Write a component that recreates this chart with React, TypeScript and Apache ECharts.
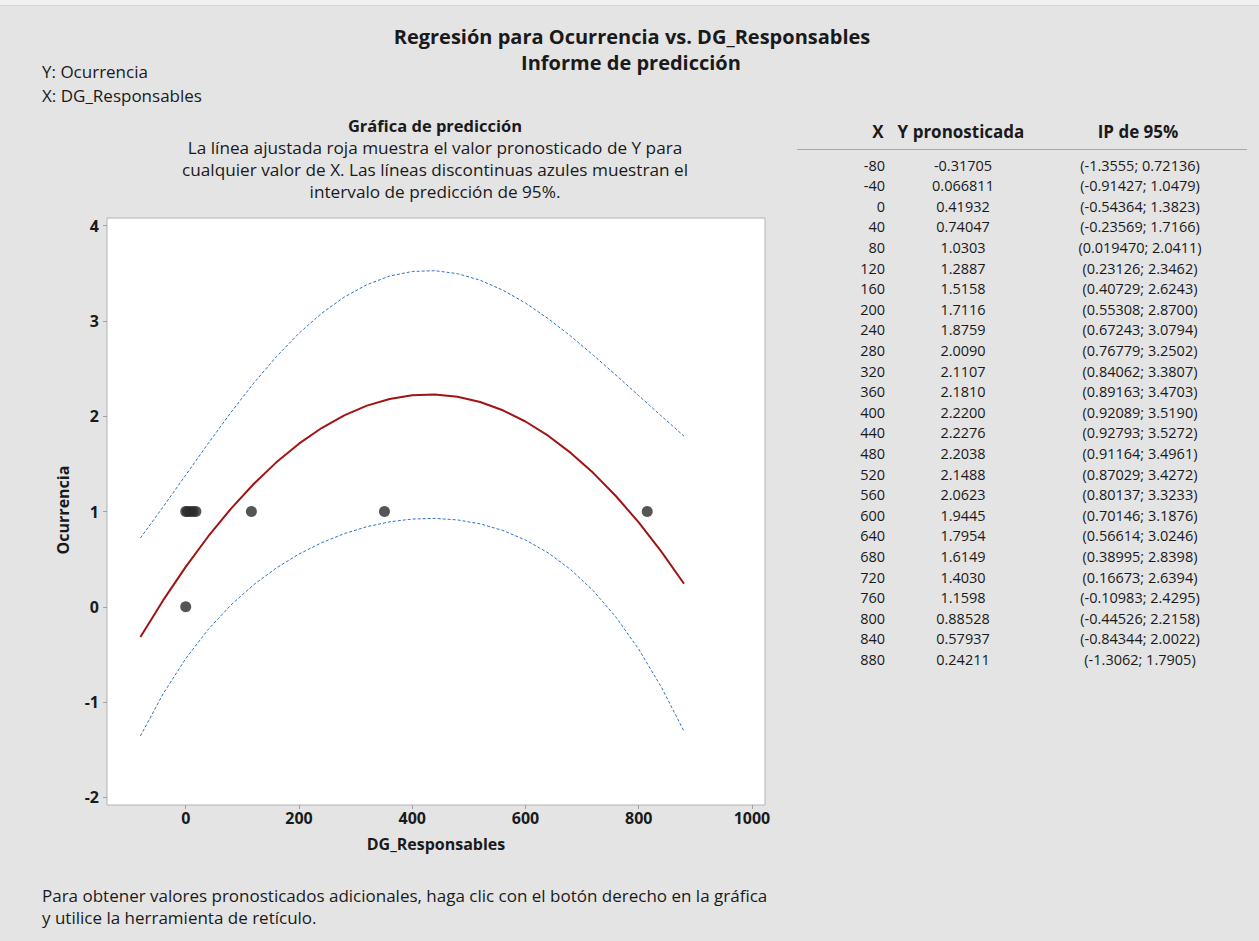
import React, { useEffect, useRef } from "react";
import * as echarts from "echarts";

// ---- Data ----
const xGrid: number[] = [-80, -40, 0, 40, 80, 120, 160, 200, 240, 280, 320, 360, 400, 440, 480, 520, 560, 600, 640, 680, 720, 760, 800, 840, 880];
const yPredText: string[] = ["-0.31705", "0.066811", "0.41932", "0.74047", "1.0303", "1.2887", "1.5158", "1.7116", "1.8759", "2.0090", "2.1107", "2.1810", "2.2200", "2.2276", "2.2038", "2.1488", "2.0623", "1.9445", "1.7954", "1.6149", "1.4030", "1.1598", "0.88528", "0.57937", "0.24211"];
const piLowText: string[] = ["-1.3555", "-0.91427", "-0.54364", "-0.23569", "0.019470", "0.23126", "0.40729", "0.55308", "0.67243", "0.76779", "0.84062", "0.89163", "0.92089", "0.92793", "0.91164", "0.87029", "0.80137", "0.70146", "0.56614", "0.38995", "0.16673", "-0.10983", "-0.44526", "-0.84344", "-1.3062"];
const piHighText: string[] = ["0.72136", "1.0479", "1.3823", "1.7166", "2.0411", "2.3462", "2.6243", "2.8700", "3.0794", "3.2502", "3.3807", "3.4703", "3.5190", "3.5272", "3.4961", "3.4272", "3.3233", "3.1876", "3.0246", "2.8398", "2.6394", "2.4295", "2.2158", "2.0022", "1.7905"];

const obsX: number[] = [0, 0, 3, 8, 13, 18, 116, 351, 815];
const obsY: number[] = [0, 1, 1, 1, 1, 1, 1, 1, 1];

const xTicks: number[] = [0, 200, 400, 600, 800, 1000];
const yTicks: number[] = [-2, -1, 0, 1, 2, 3, 4];

const FONT = "'Open Sans', 'Noto Sans', sans-serif";
const TXT = "#1a1a1a";

export default function App() {
  const ref = useRef<HTMLDivElement>(null);
  useEffect(() => {
    document.body.style.margin = "0";
    if (!ref.current) return;
    const chart = echarts.init(ref.current, null, { renderer: "svg" });

    const yPred = yPredText.map(Number);
    const piLow = piLowText.map(Number);
    const piHigh = piHighText.map(Number);

    const txt = (text: string, x: number, y: number, opts: any = {}) => ({
      type: "text",
      x,
      y,
      rotation: opts.rotation || 0,
      style: {
        text,
        fill: TXT,
        font: `${opts.bold ? "bold " : ""}${opts.size || 14}px ${FONT}`,
        align: opts.align || "left",
        verticalAlign: "middle",
      },
      silent: true,
    });

    const graphics: any[] = [
      { type: "rect", shape: { x: 0, y: 0, width: 1259, height: 5 }, style: { fill: "#f0f0f0" }, silent: true },
      { type: "line", shape: { x1: 0, y1: 5.5, x2: 1259, y2: 5.5 }, style: { stroke: "#d4d4d4", lineWidth: 1 }, silent: true },
      txt("Regresión para Ocurrencia vs. DG_Responsables", 632, 36.5, { bold: true, size: 20, align: "center" }),
      txt("Informe de predicción", 631, 62, { bold: true, size: 20, align: "center" }),
      txt("Y: Ocurrencia", 42, 71, { size: 17 }),
      txt("X: DG_Responsables", 42, 95, { size: 17 }),
      txt("Gráfica de predicción", 435, 125, { bold: true, size: 16.5, align: "center" }),
      txt("La línea ajustada roja muestra el valor pronosticado de Y para", 435, 147, { size: 17.2, align: "center" }),
      txt("cualquier valor de X. Las líneas discontinuas azules muestran el", 435, 169, { size: 17.2, align: "center" }),
      txt("intervalo de predicción de 95%.", 435, 191, { size: 17.2, align: "center" }),
      txt("Ocurrencia", 63, 510, { bold: true, size: 16, align: "center", rotation: Math.PI / 2 }),
      txt("DG_Responsables", 436, 844, { bold: true, size: 16, align: "center" }),
      txt("Para obtener valores pronosticados adicionales, haga clic con el botón derecho en la gráfica", 42, 895, { size: 17 }),
      txt("y utilice la herramienta de retículo.", 42, 917, { size: 17 }),
      txt("X", 878, 131, { bold: true, size: 17, align: "center" }),
      txt("Y pronosticada", 961, 131, { bold: true, size: 17, align: "center" }),
      txt("IP de 95%", 1138, 131, { bold: true, size: 17, align: "center" }),
      { type: "line", shape: { x1: 797, y1: 149.5, x2: 1247, y2: 149.5 }, style: { stroke: "#a8a8a8", lineWidth: 1 }, silent: true },
    ];
    xGrid.forEach((xv, i) => {
      const y = 165 + i * 20.6;
      graphics.push(txt(String(xv), 885, y, { size: 14.5, align: "right" }));
      graphics.push(txt(yPredText[i], 963, y, { size: 14.5, align: "center" }));
      graphics.push(txt(`(${piLowText[i]}; ${piHighText[i]})`, 1140, y, { size: 14.5, align: "center" }));
    });

    const option: any = {
      animation: false,
      backgroundColor: "#e4e4e4",
      grid: {
        left: 107,
        top: 218,
        width: 658,
        height: 587,
        show: true,
        backgroundColor: "#ffffff",
        borderColor: "#b4b4b4",
        borderWidth: 1,
      },
      xAxis: {
        type: "value",
        min: -139,
        max: 1023,
        axisLine: { show: false, onZero: false },
        splitLine: { show: false },
        axisTick: { show: true, length: 4, lineStyle: { color: "#a0a0a0" }, customValues: xTicks },
        axisLabel: {
          customValues: xTicks,
          formatter: (v: number) => String(v),
          margin: 5,
          color: TXT,
          fontFamily: FONT,
          fontSize: 16,
          fontWeight: "bold",
        },
      },
      yAxis: {
        type: "value",
        min: -2.08,
        max: 4.08,
        axisLine: { show: false, onZero: false },
        splitLine: { show: false },
        axisTick: { show: true, length: 4, lineStyle: { color: "#a0a0a0" }, customValues: yTicks },
        axisLabel: {
          customValues: yTicks,
          formatter: (v: number) => String(v),
          margin: 8,
          color: TXT,
          fontFamily: FONT,
          fontSize: 16,
          fontWeight: "bold",
        },
      },
      series: [
        {
          type: "line",
          name: "PI high",
          data: xGrid.map((x, i) => [x, piHigh[i]]),
          showSymbol: false,
          lineStyle: { color: "#2d72c4", width: 1, type: [3, 2] },
          z: 2,
        },
        {
          type: "line",
          name: "PI low",
          data: xGrid.map((x, i) => [x, piLow[i]]),
          showSymbol: false,
          lineStyle: { color: "#2d72c4", width: 1, type: [3, 2] },
          z: 2,
        },
        {
          type: "line",
          name: "Ajuste",
          data: xGrid.map((x, i) => [x, yPred[i]]),
          showSymbol: false,
          lineStyle: { color: "#a01414", width: 2 },
          z: 3,
        },
        {
          type: "scatter",
          name: "Obs",
          data: obsX.map((x, i) => [x, obsY[i]]),
          symbolSize: 11,
          itemStyle: { color: "#2a2a2a" },
          z: 4,
        },
      ],
      graphic: graphics,
    };
    chart.setOption(option);
    return () => chart.dispose();
  }, []);
  return <div ref={ref} style={{ width: 1259, height: 941 }} />;
}
